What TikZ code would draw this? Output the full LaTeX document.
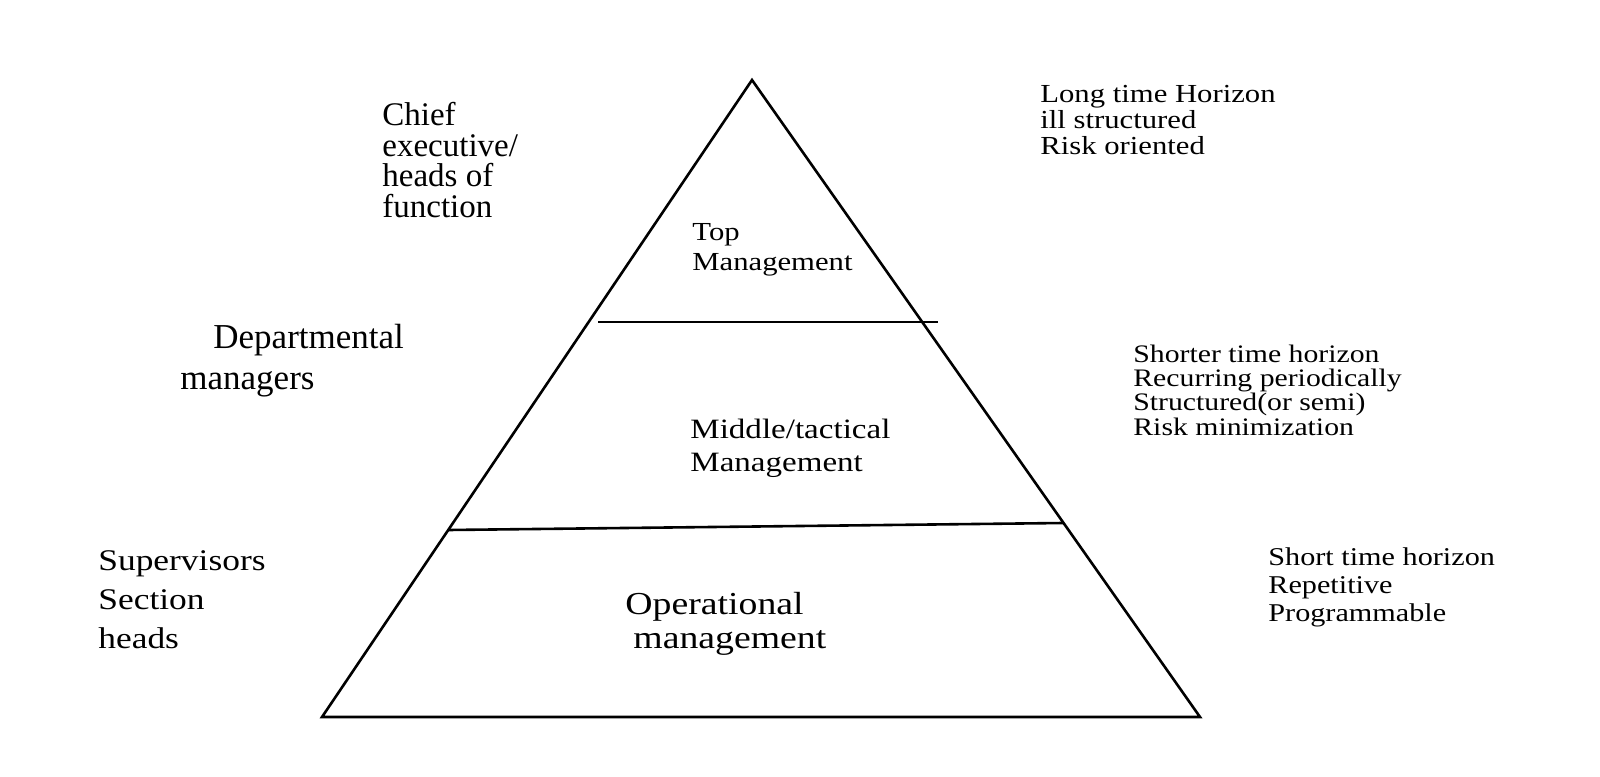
\documentclass[tikz,border=0pt]{standalone}
\usepackage{fontspec}
\setmainfont{Liberation Serif}
\newfontfamily\wideserif[FakeStretch=1.18]{Liberation Serif}
\usetikzlibrary{calc,positioning}

\tikzset{
  lvl/.style={inner sep=0pt, anchor=west, align=left},
  pyr/.style={line width=1.3pt},
}

\begin{document}
\begin{tikzpicture}[x=0.5pt,y=-0.5pt]
      \useasboundingbox (0,0) rectangle (1600,776);
      \begin{scope}[pyr]
        \coordinate (apex) at (752,80);
        \coordinate (bl) at (322,717);
        \coordinate (br) at (1200,717);
        \draw (apex) -- (bl) -- (br) -- cycle;
        \coordinate (d1l) at (598,322);
        \coordinate (d1r) at (938,322);
        \coordinate (d2l) at (448,530);
        \coordinate (d2r) at (1063,523);
        \foreach \a/\b in {d1l/d1r,d2l/d2r} {
          \draw (\a) -- (\b);
        }
      \end{scope}
      \node[lvl, font=\fontsize{16.5}{15.2}\selectfont] (chief) at (382,160)
        {Chief\\executive/\\heads of\\function};
      \node[lvl, font=\wideserif\fontsize{13}{15}\selectfont] (topm) at (692,250)
        {Top\\Management};
      \node[lvl, font=\wideserif\fontsize{13}{13.2}\selectfont] (longh) at (1040,120)
        {Long time Horizon\\ill structured\\Risk oriented};
      \node[lvl, font=\fontsize{17.5}{20.5}\selectfont] (dept) at (180,361)
        {\hspace*{16.5pt}Departmental\\managers};
      \node[lvl, font=\wideserif\fontsize{14}{16.5}\selectfont] (midm) at (690,448)
        {Middle/tactical\\Management};
      \node[lvl, font=\wideserif\fontsize{12.6}{12.2}\selectfont] (shorterh) at (1133,390)
        {Shorter time horizon\\Recurring periodically\\Structured(or semi)\\Risk minimization};
      \node[lvl, font=\wideserif\fontsize{15}{19.5}\selectfont] (superv) at (98,600)
        {Supervisors\\Section\\heads};
      \node[lvl, font=\wideserif\fontsize{16}{17}\selectfont] (operm) at (625,624)
        {Operational\\\hspace*{4pt}management};
      \node[lvl, font=\wideserif\fontsize{12.8}{14}\selectfont] (shorth) at (1268,587)
        {Short time horizon\\Repetitive\\Programmable};
\end{tikzpicture}
\end{document}
